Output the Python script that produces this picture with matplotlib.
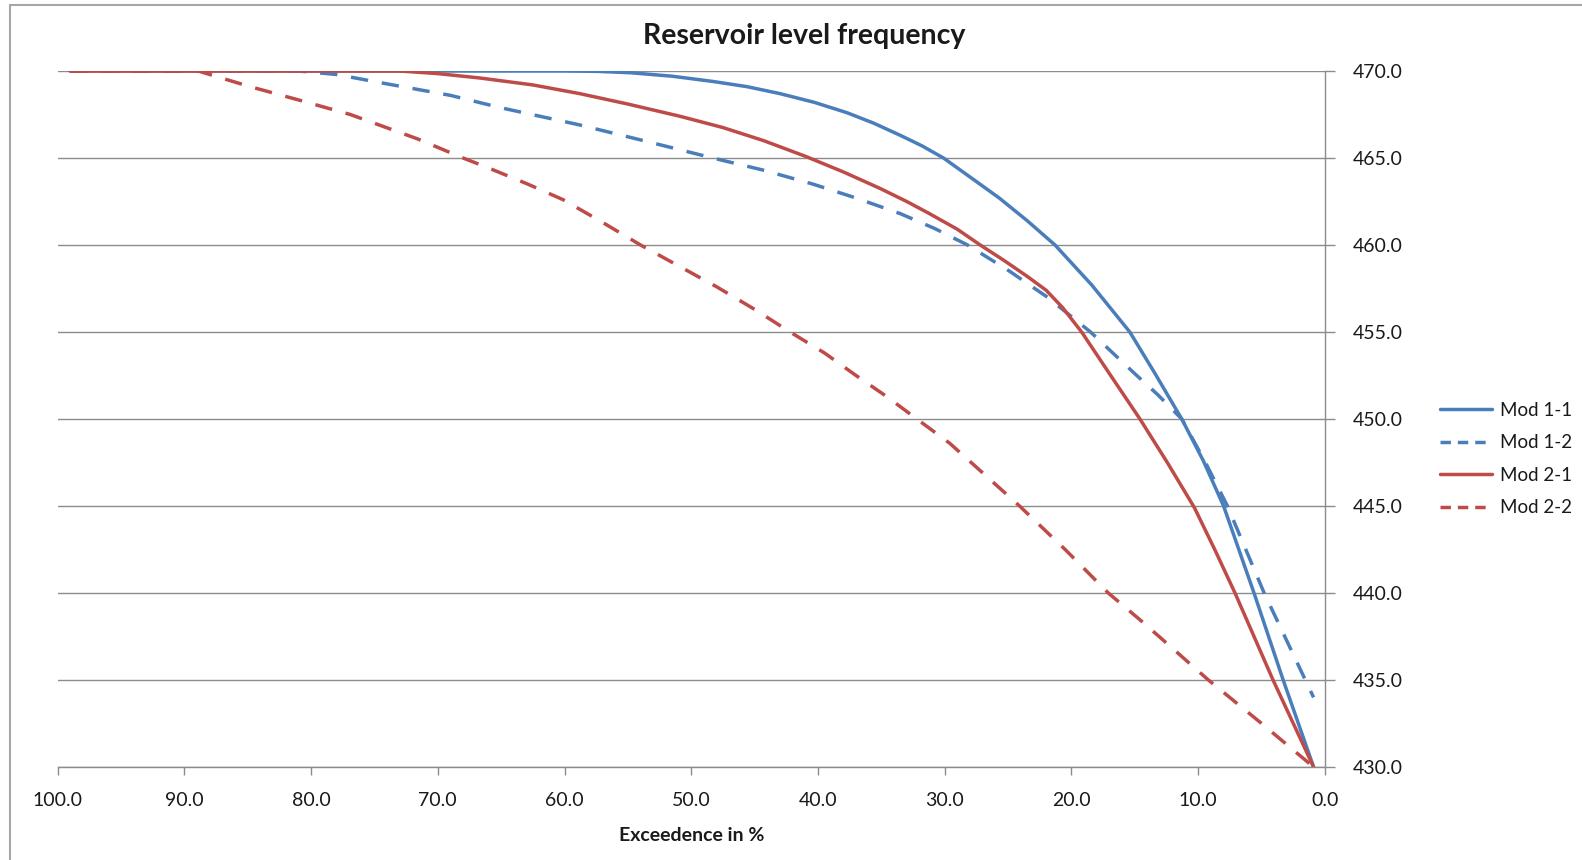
import matplotlib
matplotlib.use("Agg")
import matplotlib.pyplot as plt
from matplotlib.patches import Rectangle
from matplotlib.ticker import FormatStrFormatter, MultipleLocator

plt.rcParams['font.family'] = ['Lato', 'DejaVu Sans']

# Exceedence (%) and reservoir level for each model run
mod11_x = [99, 66.7, 60, 57.4, 54.8, 51.5, 48.3, 45.6, 43.0, 40.3, 37.7, 35.6, 33.5, 31.8, 30.1,
           27.8, 25.7, 23.5, 21.3, 18.4, 15.4, 13.4, 11.3, 9.6, 8.0, 5.6, 3.3, 0.9]
mod11_y = [470, 470, 470, 469.98, 469.9, 469.7, 469.4, 469.1, 468.7, 468.2, 467.6, 467.0, 466.3, 465.7, 465.0,
           463.8, 462.7, 461.4, 460.0, 457.7, 455.0, 452.6, 450.0, 447.6, 445.0, 440.0, 435.0, 430.0]

mod12_x = [99, 81, 78, 74.3, 69, 65.1, 58.8, 53.5, 48.3, 44.3, 40.4, 37, 33.5, 30.8, 28.2, 24.9, 21.9,
           18.5, 15, 13.2, 11.3, 9.5, 7.7, 4.8, 0.9]
mod12_y = [470, 470, 469.8, 469.3, 468.6, 467.9, 466.9, 465.95, 465.0, 464.3, 463.5, 462.7, 461.8, 460.95, 460.0, 458.5, 457.0,
           455.0, 452.6, 451.4, 450.0, 447.6, 445.0, 440.0, 434.0]

mod21_x = [99, 73, 70, 66.7, 62.5, 58.8, 55, 50.9, 47.5, 44.3, 41.0, 38, 35.1, 33, 31.2, 29, 27.2, 25.3,
           23.5, 22, 20.7, 19.2, 17, 14.6, 12.4, 10.3, 8.7, 7.1, 4.1, 0.9]
mod21_y = [470, 470, 469.85, 469.6, 469.2, 468.7, 468.1, 467.4, 466.75, 466.0, 465.1, 464.2, 463.25, 462.5, 461.8, 460.9, 460.0, 459.1,
           458.2, 457.4, 456.4, 455.0, 452.6, 450.0, 447.45, 444.9, 442.5, 440.0, 435.0, 430.0]

mod22_x = [99, 88.9, 84.8, 80.8, 76.9, 71.6, 68.0, 65.9, 62.9, 60.1, 57, 54.0, 51, 48, 45, 42.2, 39.5, 37,
           34.6, 32.2, 29.6, 27, 24.1, 20.5, 17.1, 14.5, 12.0, 9.2, 5, 0.9]
mod22_y = [470, 470, 469.1, 468.3, 467.5, 466.1, 465.0, 464.4, 463.5, 462.6, 461.3, 460.0, 458.8, 457.6, 456.3, 455.0, 453.8, 452.5,
           451.3, 450.0, 448.6, 446.9, 445.0, 442.5, 440.0, 438.4, 436.8, 435.0, 432.5, 430.0]

series_labels = ["Mod 1-1", "Mod 1-2", "Mod 2-1", "Mod 2-2"]

x_ticks = list(range(0, 101, 10))
y_limits = (430, 470)

BLUE = "#4A7EBB"
RED = "#BE4B48"
GRID = "#8C8C8C"
TEXT = "#1a1a1a"

W, H = 1582, 860
fig = plt.figure(figsize=(W / 100, H / 100), dpi=100)
fig.patch.set_facecolor("white")

# chart-area border
fig.patches.append(Rectangle((10 / W, -0.02), 1.05, 1 - 5 / H + 0.02,
                             transform=fig.transFigure, fill=False,
                             edgecolor="#A6A6A6", linewidth=1.5))

ax = fig.add_axes([57.5 / W, (H - 767) / H, (1325 - 57.5) / W, (767 - 71) / H])

lw = 2.5
l11, = ax.plot(mod11_x, mod11_y, color=BLUE, lw=lw, solid_capstyle="round", solid_joinstyle="round")
l12, = ax.plot(mod12_x, mod12_y, color=BLUE, lw=lw, dashes=(5, 4), dash_joinstyle="round")
l21, = ax.plot(mod21_x, mod21_y, color=RED, lw=lw, solid_capstyle="round", solid_joinstyle="round")
l22, = ax.plot(mod22_x, mod22_y, color=RED, lw=lw, dashes=(5, 4), dash_joinstyle="round")

ax.set_xlim(100, 0)
ax.set_ylim(*y_limits)
ax.set_xticks(x_ticks)
ax.yaxis.set_major_locator(MultipleLocator(5))
ax.xaxis.set_major_formatter(FormatStrFormatter("%.1f"))
ax.yaxis.set_major_formatter(FormatStrFormatter("%.1f"))

ax.yaxis.tick_right()
ax.grid(axis="y", color=GRID, linewidth=1.0)
ax.set_axisbelow(True)
for side in ("left", "top"):
    ax.spines[side].set_visible(False)
for side in ("right", "bottom"):
    ax.spines[side].set_color(GRID)
    ax.spines[side].set_linewidth(1.0)

ax.tick_params(axis="x", direction="out", length=6, width=1.0, color=GRID,
               labelsize=14, labelcolor=TEXT, pad=12)
ax.tick_params(axis="y", direction="out", length=7, width=1.0, color=GRID,
               labelsize=14, labelcolor=TEXT, pad=13)
for lab in ax.get_yticklabels():
    lab.set_horizontalalignment("left")

ax.set_xlabel("Exceedence in %", fontsize=14, fontweight="bold", color=TEXT, labelpad=13)

fig.text(804 / W, 1 - 36 / H, "Reservoir level frequency", ha="center", va="center",
         fontsize=20.5, fontweight="bold", color=TEXT)

leg = fig.legend([l11, l12, l21, l22], series_labels, loc="center left",
                 bbox_to_anchor=(1440 / W, 1 - 459 / H), frameon=False,
                 borderpad=0, borderaxespad=0, fontsize=13.5,
                 handlelength=2.75, handletextpad=0.45, labelspacing=0.83)
for t in leg.get_texts():
    t.set_color(TEXT)
for ln in leg.get_lines():
    if ln.get_linestyle() != "-":
        ln.set_dashes((3, 2))

fig.savefig("out.png", dpi=100, facecolor="white")
